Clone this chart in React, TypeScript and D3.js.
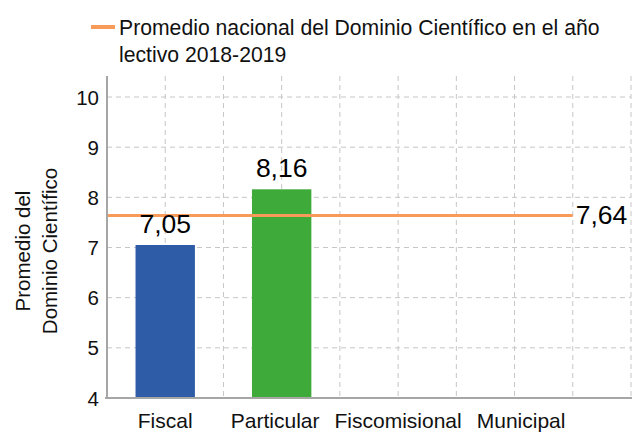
import React, { useLayoutEffect, useRef, useState } from "react";
import * as d3 from "d3";

// chart data
const categories = ["Fiscal", "Particular", "Fiscomisional", "Municipal"];
const scores = [7.05, 8.16, null, null];
const barColors = ["#2f5ca6", "#3daa39", "#2f5ca6", "#2f5ca6"];
const yTicks = [4, 5, 6, 7, 8, 9, 10];
const nationalAverage = 7.64;
const legendLines = [
  "Promedio nacional del Dominio Científico en el año",
  "lectivo 2018-2019",
];
const yTitleLines = ["Promedio del", "Dominio Científico"];

const fmt = (v: number) => v.toFixed(2).replace(".", ",");

const W = 640;
const H = 433;
const plot = { left: 107, right: 631, top: 76, bottom: 398 };
const FONT = "'Liberation Sans', Arial, sans-serif";
const MIN_LABEL_GAP = 15;

const App: React.FC = () => {
  const labelsRef = useRef<SVGGElement | null>(null);
  const [shifts, setShifts] = useState<number[]>(categories.map(() => 0));

  const step = (plot.right - plot.left) / 4.5;
  const x = d3
    .scaleBand<string>()
    .domain(categories)
    .range([plot.left, plot.left + step * categories.length])
    .paddingInner(0.49)
    .paddingOuter(0.245);

  const y = d3.scaleLinear().domain([4, 10]).range([398, 97]);

  // vertical grid every half category step
  const vGrid = d3.range(1, 10).map(k => plot.left + (k * x.step()) / 2);

  const lineEnd = x.range()[1];
  const center = (c: string) => x(c)! + x.bandwidth() / 2;

  // push crowded category labels apart, keeping the widest one in place
  useLayoutEffect(() => {
    if (!labelsRef.current) return;
    const nodes = Array.from(labelsRef.current.querySelectorAll("text")) as SVGTextElement[];
    const widths = nodes.map(n => n.getComputedTextLength());
    const pos = categories.map(c => center(c));
    const pivot = d3.maxIndex(widths);
    for (let i = pivot + 1; i < pos.length; i++) {
      const gap = pos[i] - widths[i] / 2 - (pos[i - 1] + widths[i - 1] / 2);
      if (gap < MIN_LABEL_GAP) pos[i] += MIN_LABEL_GAP - gap;
    }
    for (let i = pivot - 1; i >= 0; i--) {
      const gap = pos[i + 1] - widths[i + 1] / 2 - (pos[i] + widths[i] / 2);
      if (gap < MIN_LABEL_GAP) pos[i] -= MIN_LABEL_GAP - gap;
    }
    setShifts(pos.map((p, i) => p - center(categories[i])));
  }, []);

  return (
    <svg
      width={W}
      height={H}
      style={{ position: "absolute", left: 0, top: 0, background: "#fff" }}
      fontFamily={FONT}
    >
      {/* legend */}
      <line x1={91} x2={115} y1={27} y2={27} stroke="#f79a5a" strokeWidth={4} />
      {legendLines.map((t, i) => (
        <text key={t} x={119} y={35 + i * 27} fontSize={21.2} fill="#111">
          {t}
        </text>
      ))}

      {/* grid */}
      <g stroke="#c6c6c6" strokeWidth={1} strokeDasharray="5,4">
        {yTicks.slice(1).map(t => (
          <line key={t} x1={plot.left} x2={plot.right} y1={y(t)} y2={y(t)} />
        ))}
        {vGrid.map(v => (
          <line key={v} x1={v} x2={v} y1={plot.top} y2={plot.bottom} />
        ))}
      </g>

      {/* bars */}
      {categories.map((c, i) =>
        scores[i] == null ? null : (
          <rect
            key={c}
            x={x(c)!}
            y={y(scores[i]!)}
            width={x.bandwidth()}
            height={y(4) - y(scores[i]!)}
            fill={barColors[i]}
          />
        )
      )}

      {/* national average */}
      <line
        x1={plot.left}
        x2={lineEnd}
        y1={y(nationalAverage)}
        y2={y(nationalAverage)}
        stroke="#f79a5a"
        strokeWidth={3}
      />
      <text
        x={lineEnd + 3}
        y={y(nationalAverage) + 9}
        fontSize={26.5}
        fill="#000"
      >
        {fmt(nationalAverage)}
      </text>

      {/* bar value labels */}
      {categories.map((c, i) =>
        scores[i] == null ? null : (
          <text
            key={c}
            x={center(c)}
            y={y(scores[i]!) - 12}
            textAnchor="middle"
            fontSize={26.5}
            fill="#000"
          >
            {fmt(scores[i]!)}
          </text>
        )
      )}

      {/* axes */}
      <line x1={plot.left} x2={plot.left} y1={plot.top} y2={plot.bottom + 1} stroke="#a6a6a6" strokeWidth={2} />
      <line x1={plot.left - 2} x2={plot.right + 1} y1={plot.bottom} y2={plot.bottom} stroke="#a6a6a6" strokeWidth={2} />

      {yTicks.map(t => (
        <text key={t} x={99} y={y(t) + 7.5} textAnchor="end" fontSize={20.5} fill="#111">
          {t}
        </text>
      ))}

      <g ref={labelsRef}>
        {categories.map((c, i) => (
          <text
            key={c}
            x={center(c) + shifts[i]}
            y={428}
            textAnchor="middle"
            fontSize={21}
            fill="#111"
          >
            {c}
          </text>
        ))}
      </g>

      {/* y title */}
      <g transform="translate(23,251) rotate(-90)">
        {yTitleLines.map((t, i) => (
          <text key={t} x={0} y={7 + i * 27} textAnchor="middle" fontSize={20.5} fill="#111">
            {t}
          </text>
        ))}
      </g>
    </svg>
  );
};

export default App;
